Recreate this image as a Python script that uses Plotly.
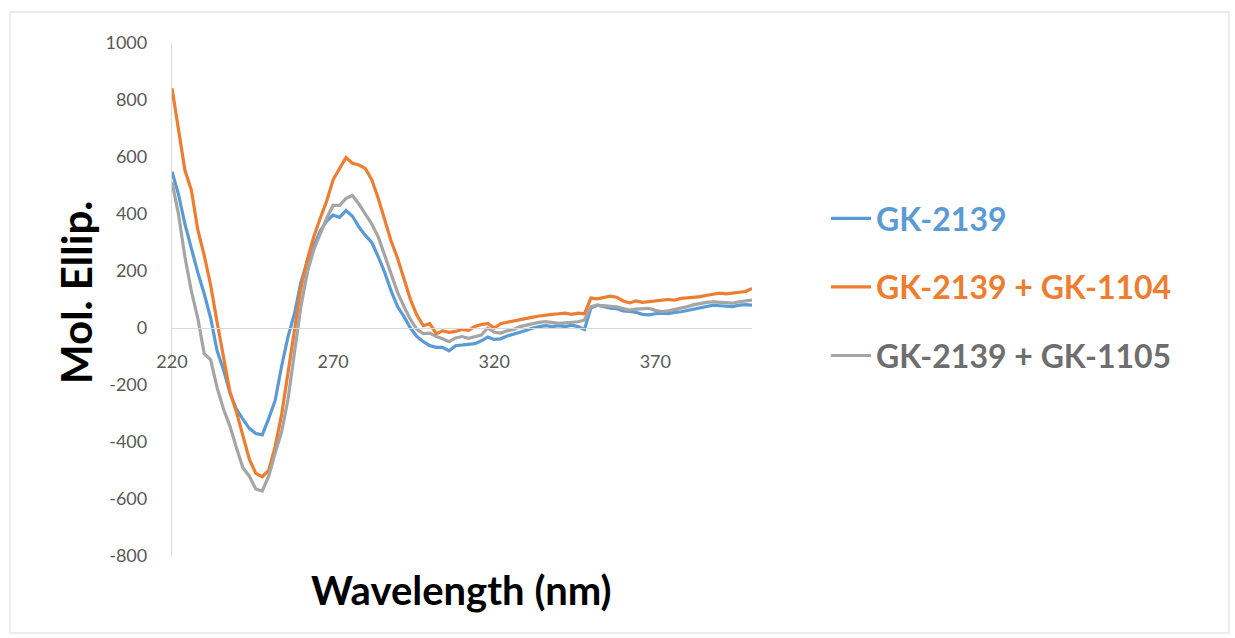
import plotly.graph_objects as go

wavelength = list(range(220, 401, 2))

gk2139 = [548, 470, 365, 275, 195, 120, 35, -80, -147, -228,
          -285, -320, -352, -370, -375, -318, -255, -135, -30, 50,
          160, 235, 290, 340, 375, 396, 388, 412, 392, 355,
          325, 300, 250, 195, 130, 75, 40, 0, -30, -48,
          -62, -68, -68, -80, -62, -60, -58, -55, -45, -32,
          -40, -38, -28, -20, -15, -8, 0, 5, 8, 5,
          8, 5, 10, 5, -5, 70, 80, 75, 70, 68,
          60, 58, 55, 48, 46, 50, 52, 50, 55, 57,
          62, 66, 70, 75, 80, 78, 76, 75, 80, 82, 80]

gk2139_1104 = [841, 690, 554, 484, 345, 255, 150, 20, -110, -225,
               -295, -378, -460, -510, -522, -500, -416, -305, -160, 0,
               140, 240, 320, 385, 445, 520, 560, 598, 578, 572,
               560, 520, 455, 380, 305, 245, 168, 100, 45, 8,
               15, -20, -10, -15, -12, -5, -8, 5, 12, 16,
               0, 15, 20, 25, 30, 34, 38, 42, 46, 48,
               50, 52, 48, 52, 50, 105, 102, 108, 112, 108,
               95, 88, 95, 90, 92, 96, 98, 100, 98, 104,
               106, 108, 110, 115, 118, 122, 120, 122, 125, 128, 139]

gk2139_1105 = [513, 400, 250, 130, 35, -90, -112, -210, -285, -345,
               -420, -490, -520, -565, -572, -520, -440, -365, -250, -80,
               75, 195, 275, 330, 385, 430, 430, 455, 465, 435,
               400, 365, 320, 255, 190, 125, 75, 30, -5, -20,
               -18, -30, -38, -48, -35, -30, -36, -30, -25, 0,
               -15, -18, -10, -5, 5, 10, 15, 20, 22, 18,
               16, 18, 20, 22, 28, 75, 80, 78, 76, 74,
               68, 63, 66, 68, 69, 62, 58, 60, 65, 69,
               75, 82, 87, 90, 92, 90, 88, 87, 92, 95, 98]

series_names = ["GK-2139", "GK-2139 + GK-1104", "GK-2139 + GK-1105"]
line_colors = ["#5B9BD5", "#ED7D31", "#A5A5A5"]
text_colors = ["#5B9BD5", "#ED7D31", "#6E6E6E"]
x_ticks = [220, 270, 320, 370]
y_ticks = list(range(-800, 1001, 200))
y_tick_text = [str(v) for v in y_ticks]  # plain hyphen-minus, as in the reference

fig = go.Figure()
for name, ys, lc, tc in zip(series_names, [gk2139, gk2139_1104, gk2139_1105], line_colors, text_colors):
    fig.add_trace(go.Scatter(
        x=wavelength, y=ys, mode="lines",
        name=f'<span style="color:{tc}">{name}</span>',
        line=dict(color=lc, width=3.2),
        legendgroup=name,
    ))

fig.update_layout(
    width=1235, height=638,
    margin=dict(l=172, r=483, t=43, b=82),
    paper_bgcolor="white", plot_bgcolor="white",
    font=dict(family="Lato, Open Sans, sans-serif", color="#595959"),
    showlegend=True,
    legend=dict(
        x=(826 - 172) / 580, y=(556 - 287) / 513, xanchor="left", yanchor="middle",
        font=dict(family="Lato", size=32, color="#595959", weight="bold"),
        traceorder="grouped", tracegroupgap=24,
        itemwidth=40, bgcolor="rgba(0,0,0,0)",
    ),
    xaxis=dict(
        range=[220, 400], tickvals=x_ticks, ticktext=[str(v) for v in x_ticks],
        anchor="free", position=(0 - (-800)) / 1800,
        showline=True, linecolor="#D9D9D9", linewidth=1.3,
        showgrid=False, zeroline=False, ticks="",
        ticklabelstandoff=17,
        tickfont=dict(size=18, color="#595959"),
    ),
    yaxis=dict(
        range=[-800, 1000], tickvals=y_ticks, ticktext=y_tick_text,
        showline=True, linecolor="#D9D9D9", linewidth=1.3,
        showgrid=False, zeroline=False, ticks="",
        ticklabelstandoff=20,
        tickfont=dict(size=18, color="#595959"),
    ),
    annotations=[
        dict(text="<b>Mol. Ellip.</b>", xref="paper", yref="paper",
             x=(76 - 172) / 580, y=(556 - 293) / 513, textangle=-90, showarrow=False,
             xanchor="center", yanchor="middle",
             font=dict(family="Lato", size=42, color="black")),
        dict(text="<b>Wavelength (nm)</b>", xref="paper", yref="paper",
             x=(461 - 172) / 580, y=(556 - 590) / 513, showarrow=False,
             xanchor="center", yanchor="middle",
             font=dict(family="Lato", size=40, color="black")),
    ],
    shapes=[
        dict(type="rect", xref="paper", yref="paper",
             x0=(10 - 172) / 580, x1=(1229 - 172) / 580,
             y0=(556 - 633) / 513, y1=(556 - 12) / 513,
             line=dict(color="#D9D9D9", width=1), fillcolor="rgba(0,0,0,0)", layer="below"),
    ],
)

fig.write_html("out.html")
